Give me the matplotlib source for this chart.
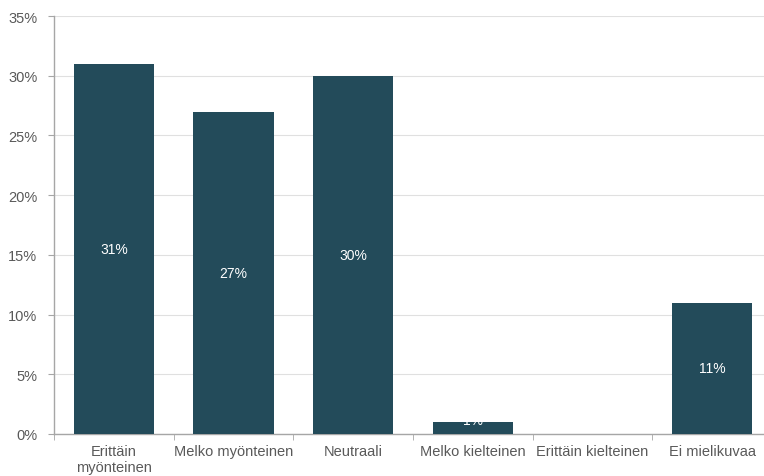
import matplotlib
matplotlib.use("Agg")
import matplotlib.pyplot as plt
import numpy as np

categories = ["Erittäin\nmyönteinen", "Melko myönteinen", "Neutraali",
              "Melko kielteinen", "Erittäin kielteinen", "Ei mielikuvaa"]
values = [31, 27, 30, 1, 0, 11]
yticks = [0, 5, 10, 15, 20, 25, 30, 35]

plt.rcParams["font.family"] = ["Liberation Sans", "DejaVu Sans"]
BAR = "#234b5a"
TXT = "#595959"
AX = "#a6a6a6"

fig = plt.figure(figsize=(7.64, 4.77), dpi=100)
ax = fig.add_axes([54 / 764, 1 - 435 / 477, 718 / 764, 418 / 477])

x = np.arange(len(categories))
ax.bar(x, values, width=0.67, color=BAR, zorder=3)
for xi, v in zip(x, values):
    if v > 0:
        # small bars: label sits at the bar top, half of it white-on-white
        ax.text(xi, max(v / 2, 1.2), f"{v}%", ha="center", va="center",
                color="white", fontsize=10, zorder=4)

ax.set_xlim(-0.5, len(categories) - 0.5)
ax.set_ylim(0, 35)
ax.set_yticks(yticks)
ax.set_yticklabels([f"{t}%" for t in yticks], color=TXT, fontsize=10.5)
ax.set_xticks(x)
ax.set_xticklabels(categories, color=TXT, fontsize=10.5)
ax.tick_params(axis="x", length=0, pad=7)
ax.tick_params(axis="y", length=4, color=AX, pad=8)
ax.set_xticks(np.arange(-0.5, len(categories), 1), minor=True)
ax.tick_params(axis="x", which="minor", length=4, color=AX)
ax.grid(axis="y", color="#e0e0e0", lw=0.8, zorder=0)
for s in ["top", "right"]:
    ax.spines[s].set_visible(False)
for s in ["left", "bottom"]:
    ax.spines[s].set_color(AX)
    ax.spines[s].set_linewidth(1)

fig.savefig("out.png", dpi=100)
